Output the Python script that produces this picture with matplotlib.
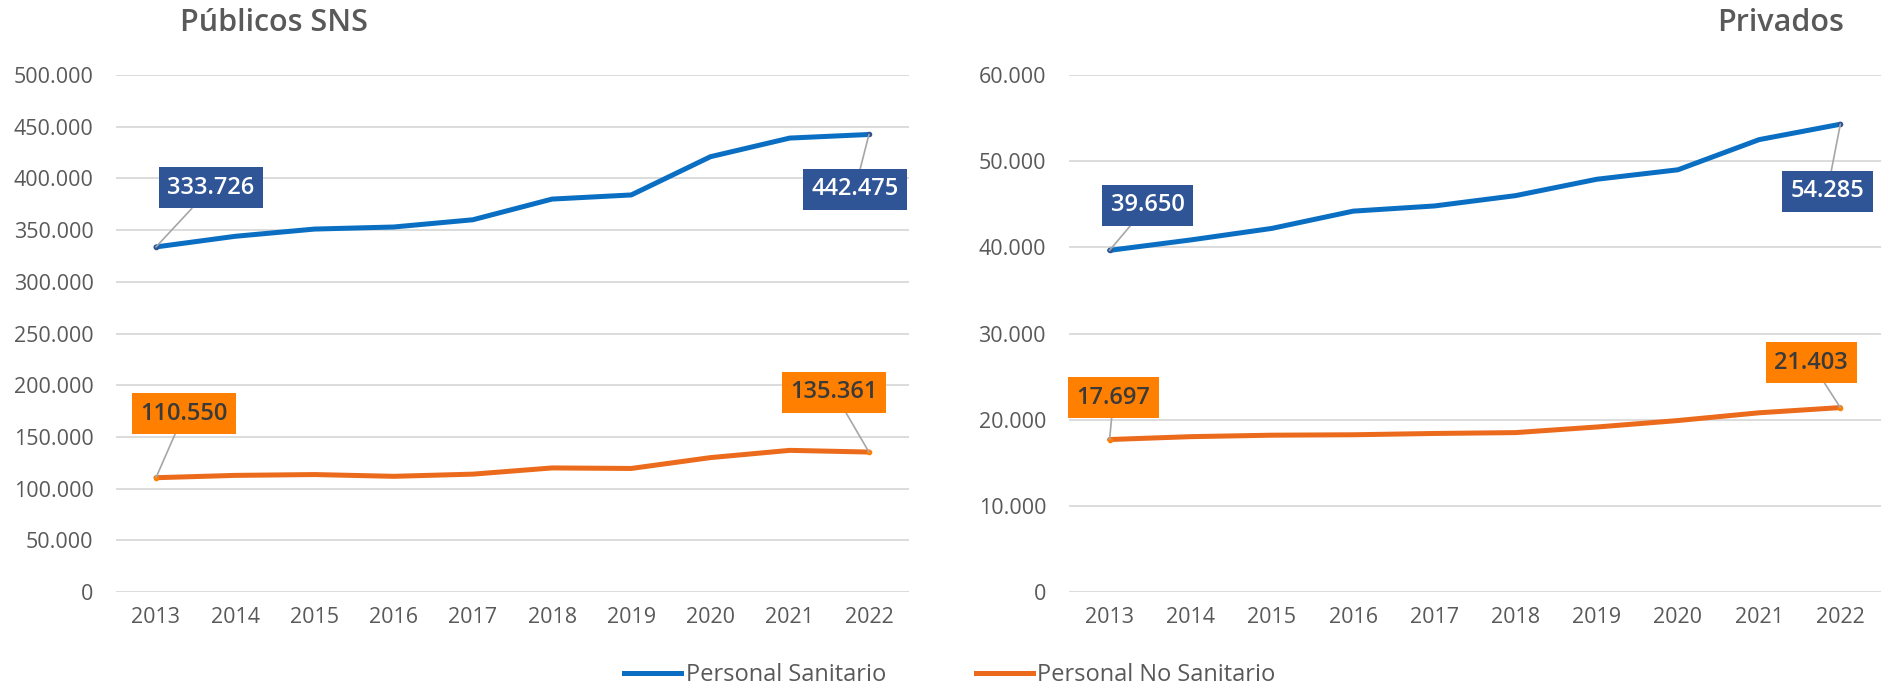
import matplotlib.pyplot as plt
from matplotlib.ticker import FuncFormatter
from matplotlib.lines import Line2D

plt.rcParams['font.family'] = ['Open Sans', 'DejaVu Sans']

years = [2013, 2014, 2015, 2016, 2017, 2018, 2019, 2020, 2021, 2022]

# Públicos SNS
sns_sanitario = [333726, 344000, 351000, 353000, 360000, 380000, 384000, 421000, 439000, 442475]
sns_no_sanitario = [110550, 112800, 113600, 111900, 114000, 120000, 119500, 130000, 137000, 135361]

# Privados
priv_sanitario = [39650, 40860, 42200, 44200, 44800, 46000, 47900, 49000, 52500, 54285]
priv_no_sanitario = [17697, 18030, 18200, 18250, 18400, 18500, 19150, 19900, 20800, 21403]

BLUE = '#0A6FC2'
ORANGE = '#EB6A1C'
BOX_BLUE = '#2F5597'
BOX_ORANGE = '#FF7F00'
GRID = '#D9D9D9'
TXT = '#595959'


def fmt_miles(v, pos=None):
    return f'{int(v):,}'.replace(',', '.')


def draw_panel(ax, san, nosan, ymax, step, offsets):
    x = list(range(len(years)))
    ax.plot(x, san, color=BLUE, lw=3.6, solid_capstyle='round', zorder=3)
    ax.plot(x, nosan, color=ORANGE, lw=3.6, solid_capstyle='round', zorder=3)
    ax.set_xlim(-0.5, len(years) - 0.5)
    ax.set_ylim(0, ymax)
    ax.set_yticks(range(0, ymax + 1, step))
    ax.yaxis.set_major_formatter(FuncFormatter(fmt_miles))
    ax.set_xticks(x)
    ax.set_xticklabels([str(y) for y in years])
    ax.grid(axis='y', color=GRID, lw=1.3)
    ax.set_axisbelow(True)
    for s in ax.spines.values():
        s.set_visible(False)
    ax.tick_params(length=0, labelsize=15.5, colors=TXT)
    ax.tick_params(axis='y', pad=16.5)
    ax.tick_params(axis='x', pad=10.5)

    # etiquetas de los extremos
    series = [(san, BOX_BLUE, 'white'), (nosan, BOX_ORANGE, '#3A3A3A')]
    k = 0
    for vals, fc, tc in series:
        for i in (0, len(vals) - 1):
            ax.plot(x[i], vals[i], 'o', ms=3, color=fc, zorder=4)
            ax.annotate(fmt_miles(vals[i]), xy=(x[i], vals[i]), xytext=offsets[k],
                        textcoords='offset pixels', ha='center', va='center',
                        fontsize=17, fontweight='semibold', color=tc,
                        bbox=dict(boxstyle='square,pad=0.36', fc=fc, ec='none'),
                        arrowprops=dict(arrowstyle='-', color='#A6A6A6', lw=1.2,
                                        shrinkA=0, shrinkB=0),
                        zorder=5)
            k += 1


fig = plt.figure(figsize=(18.83, 6.88), dpi=100)
ax1 = fig.add_axes([0.0618, 0.1395, 0.4207, 0.7515])
ax2 = fig.add_axes([0.5677, 0.1395, 0.4312, 0.7515])

draw_panel(ax1, sns_sanitario, sns_no_sanitario, 500000, 50000,
           [(55, 59), (-14, -55), (28, 64), (-35, 60)])
draw_panel(ax2, priv_sanitario, priv_no_sanitario, 60000, 10000,
           [(38, 45), (-13, -67), (4, 42), (-29, 45)])

fig.text(180 / 1883, 1 - 23 / 688, 'Públicos SNS', fontsize=22, fontweight='semibold',
         color=TXT, ha='left', va='center')
fig.text(1844 / 1883, 1 - 23 / 688, 'Privados', fontsize=22, fontweight='semibold',
         color=TXT, ha='right', va='center')

handles = [Line2D([], [], color=BLUE, lw=3.6),
           Line2D([], [], color=ORANGE, lw=3.6)]
fig.legend(handles, ['Personal Sanitario', 'Personal No Sanitario'], ncol=2,
           loc='center', bbox_to_anchor=(0.5045, 1 - 675 / 688), frameon=False,
           fontsize=17, labelcolor=TXT, handlelength=2.4, handletextpad=0.2,
           columnspacing=3.8)

fig.savefig('out.png', dpi=100)
